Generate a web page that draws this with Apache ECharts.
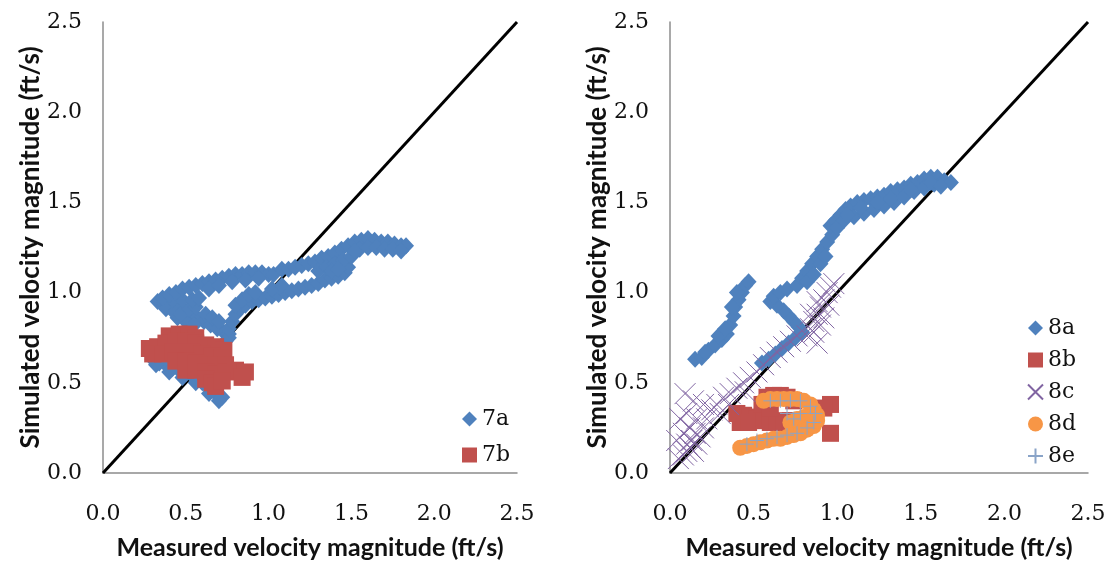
<!DOCTYPE html>
<html>
<head>
<meta charset="utf-8">
<script src="https://cdn.jsdelivr.net/npm/echarts@6/dist/echarts.min.js"></script>
<style>
  html, body { margin: 0; padding: 0; background: #fff; }
  #main { width: 1110px; height: 567px; }
</style>
</head>
<body>
<div id="main"></div>
<script>
// data: [measured, simulated] in ft/s
var s7a = [
    [0.30,0.63],[0.34,0.61],[0.38,0.60],[0.42,0.58],[0.46,0.57],[0.50,0.55],[0.55,0.53],[0.60,0.50],[0.64,0.47],[0.68,0.44],[0.72,0.42],
    [0.32,0.60],[0.40,0.56],[0.48,0.53],[0.56,0.50],[0.64,0.44],[0.70,0.40],
    [0.33,0.95],[0.37,0.94],[0.41,0.93],[0.45,0.92],[0.49,0.90],[0.53,0.88],[0.57,0.86],[0.61,0.84],[0.65,0.82],[0.69,0.80],[0.73,0.78],[0.76,0.77],
    [0.45,0.86],[0.50,0.84],[0.55,0.82],[0.74,0.73],[0.76,0.75],
    [0.38,0.91],[0.43,0.89],[0.47,0.88],[0.52,0.91],[0.56,0.92],[0.62,0.88],[0.66,0.86],[0.70,0.84],
    [0.42,0.96],[0.48,0.96],[0.54,0.96],[0.58,0.97],
    [0.36,0.97],[0.40,0.99],[0.44,1.00],[0.48,1.02],[0.52,1.03],[0.56,1.04],[0.60,1.05],[0.64,1.06],[0.68,1.07],[0.72,1.08],[0.76,1.09],
    [0.80,1.10],[0.84,1.10],[0.88,1.11],[0.92,1.11],[0.96,1.11],[1.00,1.10],[1.03,1.10],
    [0.64,1.02],[0.70,1.04],[0.78,1.06],[0.86,1.07],[0.94,1.08],
    [0.76,0.80],[0.78,0.84],[0.80,0.88],[0.83,0.91],[0.86,0.93],[0.90,0.95],[0.94,0.96],[0.98,0.97],[1.02,0.98],[1.06,0.99],[1.10,1.00],
    [0.80,0.93],[0.84,0.96],[0.88,0.99],[0.92,1.00],[1.02,1.02],[1.08,1.04],
    [1.14,1.01],[1.18,1.02],[1.22,1.03],[1.26,1.04],[1.30,1.05],[1.34,1.07],[1.38,1.08],[1.42,1.09],[1.46,1.11],[1.48,1.14],
    [1.08,1.13],[1.12,1.13],[1.16,1.14],[1.20,1.15],[1.24,1.16],[1.28,1.17],[1.32,1.19],[1.36,1.20],[1.40,1.22],[1.44,1.24],[1.48,1.26],
    [1.52,1.28],[1.56,1.29],[1.60,1.30],[1.64,1.29],[1.68,1.28],[1.72,1.28],[1.76,1.27],[1.80,1.26],[1.83,1.26],
    [1.55,1.24],[1.60,1.25],[1.65,1.25],[1.70,1.24],[1.75,1.24],[1.80,1.23],
    [1.30,1.12],[1.35,1.14],[1.40,1.16],[1.45,1.18],[1.38,1.12],[1.42,1.13],[1.50,1.20],[1.52,1.23]
];
var s7b = [
    [0.40,0.76],[0.46,0.77],[0.52,0.77],[0.56,0.75],
    [0.28,0.69],[0.33,0.70],[0.38,0.72],[0.44,0.73],[0.50,0.73],[0.56,0.72],[0.62,0.71],[0.68,0.70],[0.73,0.68],
    [0.30,0.66],[0.36,0.66],[0.42,0.67],[0.48,0.67],[0.54,0.67],[0.60,0.66],[0.66,0.65],[0.72,0.64],
    [0.44,0.62],[0.50,0.62],[0.56,0.61],[0.62,0.60],[0.68,0.60],[0.74,0.60],
    [0.50,0.57],[0.56,0.57],[0.62,0.56],[0.68,0.55],[0.74,0.56],[0.80,0.57],[0.86,0.56],[0.84,0.53],
    [0.62,0.52],[0.66,0.50],[0.68,0.48],[0.72,0.51]
];
var s8a = [
    [0.15,0.63],[0.19,0.64],[0.23,0.68],[0.27,0.71],[0.31,0.74],[0.34,0.77],[0.36,0.82],[0.38,0.87],[0.39,0.92],[0.41,0.96],[0.43,1.00],[0.45,1.04],[0.47,1.06],
    [0.21,0.67],[0.29,0.76],[0.33,0.80],[0.37,0.92],[0.40,1.00],
    [0.55,0.61],[0.59,0.63],[0.63,0.66],[0.67,0.69],[0.71,0.72],[0.75,0.75],[0.79,0.78],
    [0.77,0.81],[0.74,0.84],[0.71,0.87],[0.68,0.90],[0.64,0.93],[0.60,0.95],[0.62,0.98],[0.66,1.00],[0.70,1.02],
    [0.76,1.04],[0.79,1.08],[0.82,1.12],[0.85,1.16],[0.88,1.20],[0.91,1.24],[0.94,1.28],[0.97,1.32],[0.96,1.37],[0.99,1.40],[1.02,1.43],
    [1.05,1.46],[1.08,1.48],[1.12,1.50],[1.16,1.51],[1.20,1.52],[1.24,1.53],[1.28,1.54],[1.32,1.56],[1.36,1.57],[1.40,1.58],[1.44,1.60],
    [1.48,1.61],[1.52,1.63],[1.56,1.64],[1.60,1.64],[1.64,1.62],[1.68,1.61],
    [1.00,1.36],[1.04,1.40],[1.10,1.42],[1.16,1.44],[1.22,1.46],[1.28,1.48],[1.34,1.50],[1.40,1.53],[1.46,1.56],[1.52,1.58],[1.58,1.60],
    [0.82,1.06],[0.86,1.10],[0.90,1.16],[0.93,1.20],
    [1.06,1.43],[1.14,1.47],[1.24,1.50],[1.32,1.52],[1.44,1.57],[1.56,1.61],[1.62,1.59]
];
var s8b = [
    [0.40,0.33],[0.44,0.32],[0.48,0.31],[0.52,0.30],[0.42,0.28],[0.47,0.28],[0.56,0.29],[0.60,0.28],[0.64,0.28],[0.68,0.29],[0.72,0.29],
    [0.58,0.42],[0.62,0.43],[0.66,0.43],[0.70,0.42],[0.74,0.40],[0.55,0.38],[0.60,0.36],[0.96,0.38],[0.96,0.22],[0.92,0.36]
];
var s8c = [
    [0.05,0.08],[0.08,0.10],[0.10,0.12],[0.12,0.14],[0.14,0.12],[0.10,0.16],[0.13,0.18],[0.16,0.16],[0.08,0.22],[0.12,0.25],[0.06,0.30],
    [0.10,0.33],[0.15,0.22],[0.18,0.20],[0.20,0.25],[0.16,0.30],[0.04,0.18],[0.22,0.30],[0.25,0.35],[0.20,0.38],[0.14,0.40],[0.09,0.44],
    [0.28,0.38],[0.32,0.42],[0.36,0.44],[0.40,0.47],[0.44,0.50],[0.48,0.53],[0.52,0.56],[0.56,0.60],[0.60,0.64],[0.64,0.67],[0.68,0.70],
    [0.72,0.73],[0.76,0.76],[0.30,0.33],[0.35,0.38],[0.45,0.45],
    [0.82,0.76],[0.84,0.80],[0.86,0.84],[0.88,0.88],[0.90,0.92],[0.92,0.96],[0.94,1.00],[0.96,1.03],[0.98,1.05],[0.86,0.78],[0.90,0.82],
    [0.92,0.86],[0.88,0.95],[0.95,0.93],[0.84,0.88],[0.88,0.72]
];
var s8d = [
    [0.56,0.40],[0.60,0.41],[0.64,0.41],[0.68,0.41],[0.72,0.41],[0.76,0.41],[0.80,0.40],[0.84,0.38],[0.86,0.35],[0.84,0.32],[0.80,0.31],
    [0.76,0.30],[0.72,0.28],
    [0.42,0.14],[0.46,0.15],[0.50,0.16],[0.54,0.17],[0.58,0.18],[0.62,0.19],[0.66,0.19],[0.70,0.20],[0.74,0.21],[0.78,0.22],[0.82,0.24],
    [0.86,0.26],[0.88,0.29],[0.88,0.32]
];
var s8e = [
    [0.46,0.16],[0.52,0.18],[0.58,0.19],[0.64,0.20],[0.70,0.21],[0.76,0.22],[0.82,0.25],[0.86,0.28],[0.87,0.33],[0.84,0.37],[0.78,0.40],
    [0.72,0.40],[0.66,0.40],[0.60,0.40],[0.78,0.33],[0.74,0.30],[0.70,0.33]
];
var oneToOne = [[0, 0], [2.5, 2.5]];
var tickMin = 0, tickMax = 2.5, tickStep = 0.5;

var blue = '#4F81BD', red = '#C0504D', purple = '#8064A2', orange = '#F79646', plusBlue = '#8AA4C8';
var xTitle = 'Measured velocity magnitude (ft/s)';
var yTitle = 'Simulated velocity magnitude (ft/s)';

function makeAxis(idx, title, isX) {
    return {
        type: 'value', gridIndex: idx, min: tickMin, max: tickMax, interval: tickStep,
        name: title, nameLocation: 'middle', nameGap: isX ? 62 : 59,
        nameTextStyle: { fontFamily: 'Lato', fontWeight: 'bold', fontSize: isX ? 25 : 26, color: '#111' },
        axisLine: { lineStyle: { color: '#8c8c8c', width: 1.5 } },
        axisTick: { show: false },
        splitLine: { show: false },
        axisLabel: {
            margin: isX ? 30 : 21, fontFamily: 'DejaVu Serif', fontSize: 22, color: '#111',
            formatter: function (v) { return v.toFixed(1); }
        }
    };
}

function diag(idx) {
    return {
        type: 'line', xAxisIndex: idx, yAxisIndex: idx, data: oneToOne, symbol: 'none',
        lineStyle: { color: '#000', width: 3 }, silent: true, z: 1
    };
}

var xMark = 'path://M0,0L10,10M10,0L0,10';
var plusMark = 'path://M5,0L5,10M0,5L10,5';

var myChart = echarts.init(document.getElementById('main'));
var option = {
    backgroundColor: '#fff',
    animation: false,
    grid: [
        { left: 103, top: 22, width: 414, height: 451 },
        { left: 670, top: 22, width: 418, height: 451 }
    ],
    xAxis: [makeAxis(0, xTitle, true), makeAxis(1, xTitle, true)],
    yAxis: [makeAxis(0, yTitle, false), makeAxis(1, yTitle, false)],
    legend: [
        {
            data: ['7a', '7b'], orient: 'vertical', left: 457, top: 403, itemWidth: 15, itemHeight: 15, itemGap: 14,
            textStyle: { fontFamily: 'DejaVu Serif', fontSize: 22, color: '#111' }
        },
        {
            data: ['8a', '8b', '8c', '8d', '8e'], orient: 'vertical', left: 1022, top: 312, itemWidth: 15, itemHeight: 15, itemGap: 10,
            textStyle: { fontFamily: 'DejaVu Serif', fontSize: 22, color: '#111' }
        }
    ],
    series: [
        diag(0),
        diag(1),
        { name: '7a', type: 'scatter', xAxisIndex: 0, yAxisIndex: 0, data: s7a, symbol: 'diamond', symbolSize: [16, 17], itemStyle: { color: blue, opacity: 1 } },
        { name: '7b', type: 'scatter', xAxisIndex: 0, yAxisIndex: 0, data: s7b, symbol: 'rect', symbolSize: 17, itemStyle: { color: red, opacity: 1 } },
        { name: '8a', type: 'scatter', xAxisIndex: 1, yAxisIndex: 1, data: s8a, symbol: 'diamond', symbolSize: [16, 17], itemStyle: { color: blue, opacity: 1 } },
        { name: '8b', type: 'scatter', xAxisIndex: 1, yAxisIndex: 1, data: s8b, symbol: 'rect', symbolSize: 17, itemStyle: { color: red, opacity: 1 } },
        { name: '8c', type: 'scatter', xAxisIndex: 1, yAxisIndex: 1, data: s8c, symbol: xMark, symbolSize: 21,
          itemStyle: { color: 'rgba(0,0,0,0)', borderColor: purple, borderWidth: 1, opacity: 1 } },
        { name: '8d', type: 'scatter', xAxisIndex: 1, yAxisIndex: 1, data: s8d, symbol: 'circle', symbolSize: 16, itemStyle: { color: orange, opacity: 1 } },
        { name: '8e', type: 'scatter', xAxisIndex: 1, yAxisIndex: 1, data: s8e, symbol: plusMark, symbolSize: 14,
          itemStyle: { color: 'rgba(0,0,0,0)', borderColor: plusBlue, borderWidth: 1, opacity: 1 } }
    ]
};
myChart.setOption(option);
</script>
</body>
</html>
